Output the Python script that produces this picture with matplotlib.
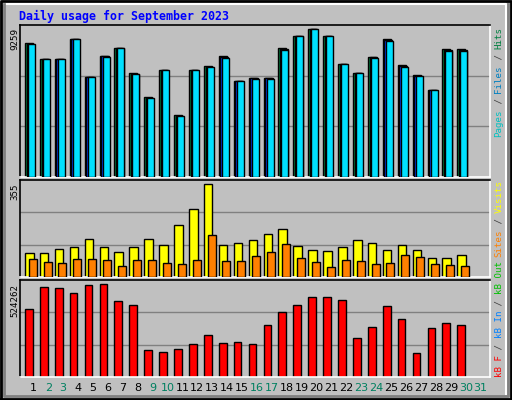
import matplotlib
matplotlib.use("Agg")
import matplotlib.pyplot as plt
from matplotlib.lines import Line2D

days = list(range(1, 32))
hits = [8360,7360,7360,8610,6240,7550,8050,6490,4990,6680,3860,6680,6930,7550,5990,
        6180,6180,8050,8800,9259,8800,7050,6490,7490,8610,6990,6360,5420,7990,7990]
files = [8330,7360,7360,8610,6240,7550,8050,6440,4950,6680,3820,6680,6880,7490,5990,
         6180,6180,7990,8800,9259,8800,7050,6490,7490,8550,6930,6310,5420,7930,7930]
pages = [8300,7360,7360,8610,6240,7520,8050,6420,4930,6680,3800,6680,6860,7470,5990,
         6160,6160,7970,8800,9259,8800,7050,6490,7470,8530,6910,6290,5420,7910,7910]
visits = [90,90,109,113,147,113,94,113,144,124,201,259,355,124,132,140,163,182,120,105,
          101,113,140,132,105,124,105,74,74,86]
sites = [70,59,55,70,70,67,44,67,67,55,51,67,159,63,63,82,97,128,74,59,40,67,63,51,55,
         86,78,51,47,44]
kbytes = [386000,507000,501000,473000,518000,524262,432000,409000,151000,140000,157000,
          186000,237000,191000,197000,186000,295000,369000,409000,450000,450000,438000,
          220000,283000,404000,329000,134000,277000,306000,295000]
weekend = {2,3,9,10,16,17,23,24,30,31}

W, H = 512, 400
fig = plt.figure(figsize=(5.12, 4.0), dpi=100)
fig.patch.set_facecolor("#C0C0C0")
BG = "#C0C0C0"

def ax_px(x0, y0, x1, y1):
    return fig.add_axes([x0/W, 1-y1/H, (x1-x0)/W, (y1-y0)/H])

X0, X1 = 20, 490
STEP = 14.91
def left(n, off=0):
    return 25 + (n-1)*STEP + off

def style(ax, ymax):
    ax.set_facecolor(BG)
    ax.set_xlim(X0, X1)
    ax.set_ylim(0, ymax)
    ax.set_xticks([]); ax.set_yticks([])
    for s in ("top", "left"):
        ax.spines[s].set_color("black")
    for s in ("right", "bottom"):
        ax.spines[s].set_color("white")
    for sp in ax.spines.values():
        sp.set_linewidth(1.2)
    for f in (1/3, 2/3):
        ax.axhline(ymax*f, color="#808080", lw=1, zorder=0)

n = len(hits)
# top panel
ax1 = ax_px(X0, 25, X1, 177)
ym1 = 9259/((177-29)/(177-25))
style(ax1, ym1)
ax1.bar([left(d) for d in days[:n]], hits, width=8, align="edge", color="#008040", edgecolor="black", lw=1, zorder=2)
ax1.bar([left(d, 1.6) for d in days[:n]], files, width=7.6, align="edge", color="#0040FF", edgecolor="black", lw=1, zorder=3)
ax1.bar([left(d, 3) for d in days[:n]], pages, width=7, align="edge", color="#00E0FF", edgecolor="black", lw=1, zorder=4)

# middle panel
ax2 = ax_px(X0, 180, X1, 277)
ym2 = 355/((277-184.3)/(277-180))
style(ax2, ym2)
ax2.bar([left(d) for d in days[:n]], visits, width=8.5, align="edge", color="#FFFF00", edgecolor="black", lw=1, zorder=2)
ax2.bar([left(d, 3.6) for d in days[:n]], sites, width=8, align="edge", color="#FF8000", edgecolor="black", lw=1, zorder=3)

# bottom panel
ax3 = ax_px(X0, 280, X1, 377)
ym3 = 524262/((377-284.3)/(377-280))
style(ax3, ym3)
ax3.bar([left(d) for d in days[:n]], kbytes, width=7.7, align="edge", color="#FF0000", edgecolor="black", lw=1, zorder=2)

# day labels
for d in days:
    fig.text((left(d)+8.3)/W, 1-388/H, str(d), ha="center", va="center", fontsize=8,
             family="DejaVu Sans", color="#008060" if d in weekend else "black")

# title
fig.text(19/W, 1-16/H, "Daily usage for September 2023", fontsize=8.4, weight="bold",
         family="DejaVu Sans Mono", color="#0000FF", ha="left", va="center")

# y max labels
for txt, ytop in (("9259", 28), ("355", 184), ("524262", 284)):
    fig.text(15/W, 1-ytop/H, txt, rotation=90, ha="center", va="top", fontsize=6.6,
             family="DejaVu Sans Mono", color="black")

# right labels
ADV = 0.602*6.6*100/72
def stacked(pieces, ybot, x=499):
    k = 0
    for txt, col in pieces:
        fig.text(x/W, 1-(ybot - k*ADV)/H, txt, rotation=90, ha="center", va="bottom",
                 fontsize=6.6, family="DejaVu Sans Mono", color=col)
        k += len(txt)

stacked([("Pages", "#00C0C0"), (" / ", "#404040"), ("Files", "#0080C0"), (" / ", "#404040"), ("Hits", "#008040")], 137)
stacked([("Sites", "#FF8000"), (" / ", "#404040"), ("Visits", "#FFFF00")], 257)
stacked([("kB F", "#FF0000"), (" / ", "#404040"), ("kB In", "#0080FF"), (" / ", "#404040"), ("kB Out", "#00C000")], 377)

# outer frame
fig.add_artist(Line2D([1/W, 1/W, 1-1/W, 1-1/W, 1/W], [1/H, 1-1/H, 1-1/H, 1/H, 1/H], color="black", lw=2, transform=fig.transFigure))
fig.add_artist(Line2D([4/W, 1-6/W, 1-6/W], [1-4/H, 1-4/H, 6/H], color="white", lw=1.5, transform=fig.transFigure))
fig.add_artist(Line2D([4/W, 4/W, 1-4/W, 1-4/W], [1-4/H, 4/H, 4/H, 1-4/H], color="#808080", lw=2, transform=fig.transFigure))

fig.savefig("out.png", dpi=100, facecolor=fig.get_facecolor())
